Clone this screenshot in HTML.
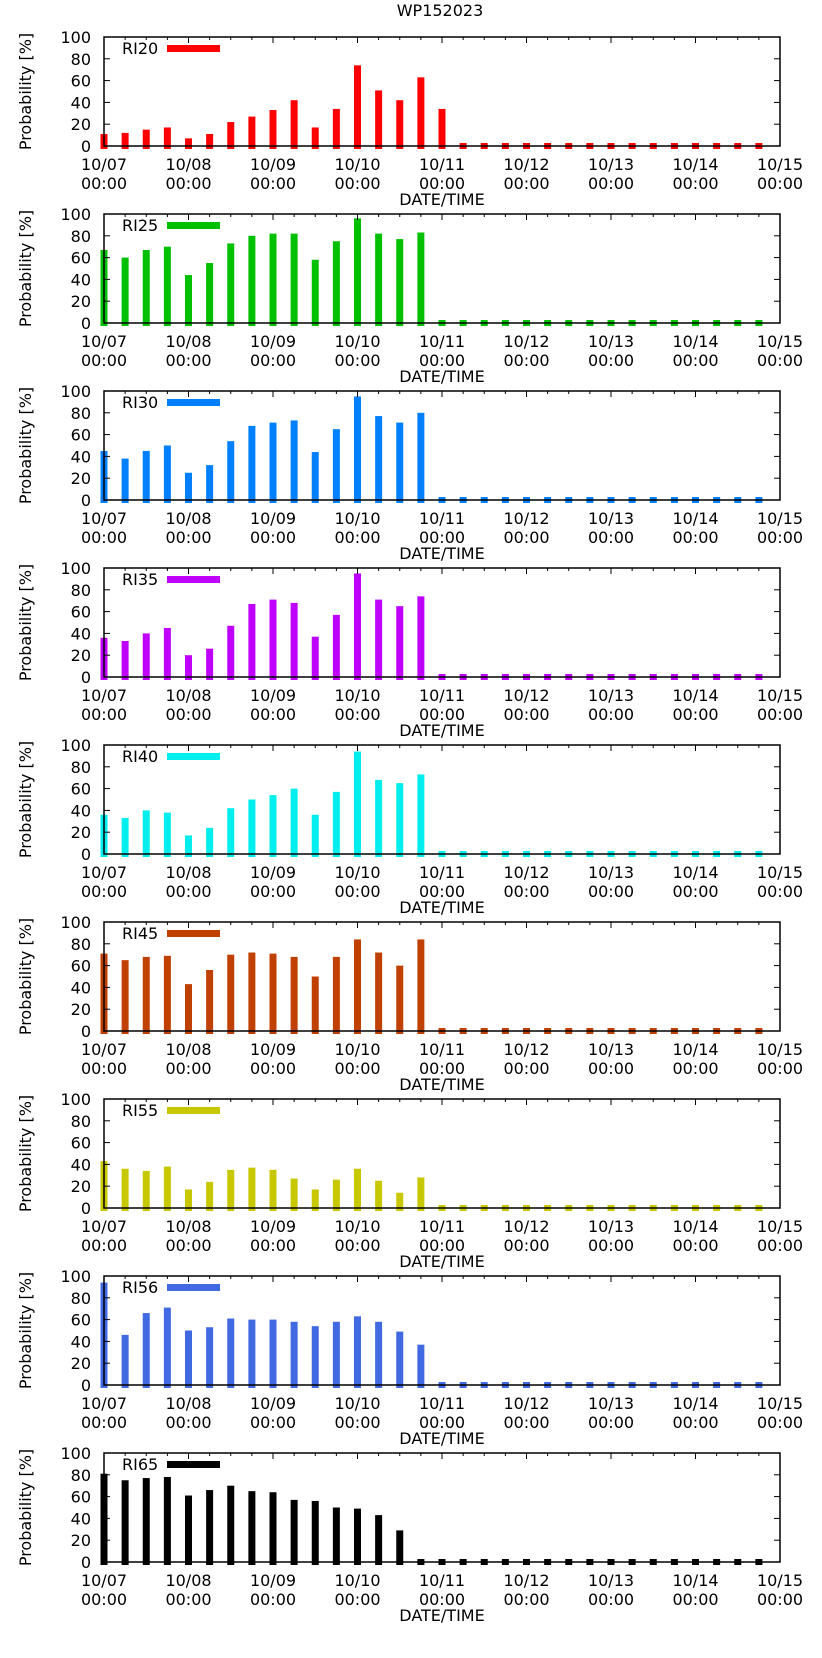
<!DOCTYPE html>
<html><head><meta charset="utf-8"><style>
body{margin:0;background:#fff}
svg text{font-family:"DejaVu Sans","Liberation Sans",sans-serif;font-size:16px;fill:#000}
</style></head><body>
<svg id="chart" width="822" height="1653" xmlns="http://www.w3.org/2000/svg">
<text x="440" y="16" text-anchor="middle">WP152023</text>
</svg>
<script>
const seriesNames = ["RI20","RI25","RI30","RI35","RI40","RI45","RI55","RI56","RI65"];
const seriesColors = ["#ff0000","#00c000","#0080ff","#c000ff","#00eeee","#c04000","#c8c800","#4169e1","#000000"];
const dayLabels = ["10/07","10/08","10/09","10/10","10/11","10/12","10/13","10/14","10/15"];
const yTicks = [0,20,40,60,80,100];
const ri20 = [11,12,15,17,7,11,22,27,33,42,17,34,74,51,42,63,34,0,0,0,0,0,0,0,0,0,0,0,0,0,0,0];
const ri25 = [67,60,67,70,44,55,73,80,82,82,58,75,96,82,77,83,0,0,0,0,0,0,0,0,0,0,0,0,0,0,0,0];
const ri30 = [45,38,45,50,25,32,54,68,71,73,44,65,95,77,71,80,0,0,0,0,0,0,0,0,0,0,0,0,0,0,0,0];
const ri35 = [36,33,40,45,20,26,47,67,71,68,37,57,95,71,65,74,0,0,0,0,0,0,0,0,0,0,0,0,0,0,0,0];
const ri40 = [36,33,40,38,17,24,42,50,54,60,36,57,94,68,65,73,0,0,0,0,0,0,0,0,0,0,0,0,0,0,0,0];
const ri45 = [71,65,68,69,43,56,70,72,71,68,50,68,84,72,60,84,0,0,0,0,0,0,0,0,0,0,0,0,0,0,0,0];
const ri55 = [43,36,34,38,17,24,35,37,35,27,17,26,36,25,14,28,0,0,0,0,0,0,0,0,0,0,0,0,0,0,0,0];
const ri56 = [94,46,66,71,50,53,61,60,60,58,54,58,63,58,49,37,0,0,0,0,0,0,0,0,0,0,0,0,0,0,0,0];
const ri65 = [81,75,77,78,61,66,70,65,64,57,56,50,49,43,29,0,0,0,0,0,0,0,0,0,0,0,0,0,0,0,0,0];
const allSeries = [ri20,ri25,ri30,ri35,ri40,ri45,ri55,ri56,ri65];

const NS="http://www.w3.org/2000/svg";
const svg=document.getElementById('chart');
const L=104,R=780,PH=109,GAP=177,TOP0=37;
const xScale = i => L + i*(R-L)/32;
function mk(tag,attrs,parent){const e=document.createElementNS(NS,tag);for(const k in attrs)e.setAttribute(k,attrs[k]);(parent||svg).appendChild(e);return e;}

allSeries.forEach((data,p)=>{
  const top=TOP0+p*GAP, bot=top+PH;
  const yScale = v => bot - v*PH/100;
  const g=mk('g',{});
  
  
  const yl=mk('text',{x:0,y:0,'text-anchor':'middle',transform:`translate(31,${(top+bot)/2}) rotate(-90)`},g);
  yl.textContent='Probability [%]';
  
  
  // bars first so ticks/frame draw over them
  data.forEach((v,i)=>{
    const x=xScale(i);
    const yTop=Math.min(yScale(v),bot-3);
    const b=mk('rect',{x:x-3.5,y:yTop,width:7,height:bot+3-yTop,fill:seriesColors[p]},g);
    
    
  });
  yTicks.forEach(t=>{
    const y=yScale(t);
    const tx=mk('text',{x:91,y:y+6,'text-anchor':'end'},g);
    tx.textContent=t;
    
    
    mk('line',{x1:L,x2:L+6,y1:y,y2:y,stroke:'#000'},g);
    mk('line',{x1:R,x2:R-6,y1:y,y2:y,stroke:'#000'},g);
  });
  for(let i=0;i<=32;i++){
    const x=xScale(i), len=i%4===0?6:3;
    mk('line',{x1:x,x2:x,y1:top,y2:top+len,stroke:'#000'},g);
  }
  dayLabels.forEach((d,k)=>{
    const x=xScale(k*4);
    const t1=mk('text',{x:x,y:bot+24,'text-anchor':'middle'},g);
    t1.textContent=d;
    
    
    const t2=mk('text',{x:x,y:bot+43,'text-anchor':'middle'},g);
    t2.textContent='00:00';
    
    
  });
  const xt=mk('text',{x:442,y:bot+59,'text-anchor':'middle'},g);
  xt.textContent='DATE/TIME';
  
  
  const fr=mk('rect',{x:L,y:top,width:R-L,height:PH,fill:'none',stroke:'#000','stroke-width':1.5},g);
  
  
  const lt=mk('text',{x:122,y:top+17},g);
  lt.textContent=seriesNames[p];
  
  
  const ll=mk('rect',{x:167,y:top+8,width:53,height:7,fill:seriesColors[p]},g);
  
  
});
</script>
</body></html>
